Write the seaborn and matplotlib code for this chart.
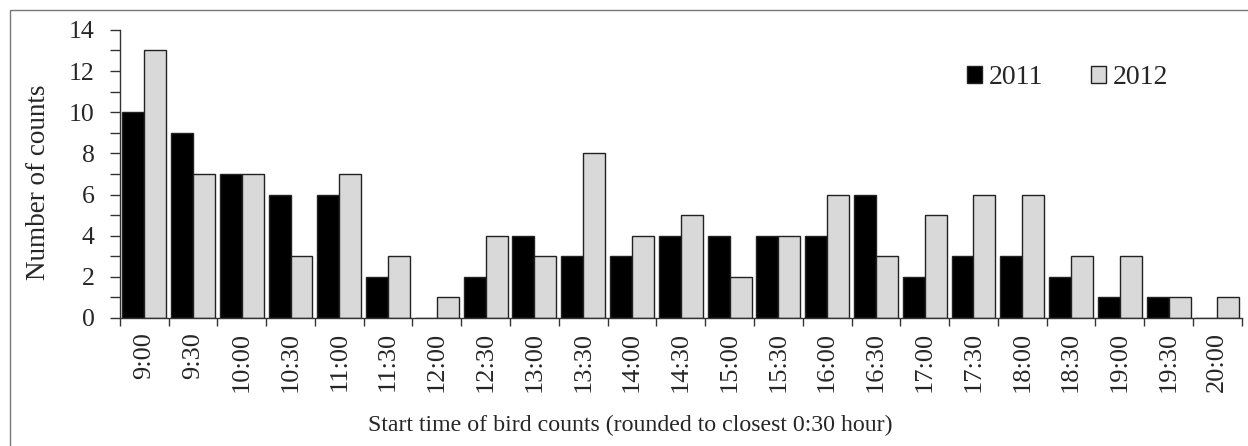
import matplotlib
matplotlib.use("Agg")
import matplotlib.pyplot as plt
import seaborn as sns
import pandas as pd
import numpy as np
from matplotlib.patches import Rectangle, Patch
from matplotlib.ticker import FixedLocator

times = ["9:00", "9:30", "10:00", "10:30", "11:00", "11:30", "12:00", "12:30",
         "13:00", "13:30", "14:00", "14:30", "15:00", "15:30", "16:00", "16:30",
         "17:00", "17:30", "18:00", "18:30", "19:00", "19:30", "20:00"]
counts_2011 = [10, 9, 7, 6, 6, 2, 0, 2, 4, 3, 3, 4, 4, 4, 4, 6, 2, 3, 3, 2, 1, 1, 0]
counts_2012 = [13, 7, 7, 3, 7, 3, 1, 4, 3, 8, 4, 5, 2, 4, 6, 3, 5, 6, 6, 3, 3, 1, 1]
years = ["2011", "2012"]

df = pd.DataFrame({
    "time": times * 2,
    "count": counts_2011 + counts_2012,
    "year": [years[0]] * len(times) + [years[1]] * len(times),
})

sns.set_theme(style="white")
plt.rcParams["font.family"] = ["Liberation Serif", "DejaVu Serif"]

fig = plt.figure(figsize=(12.48, 4.46), dpi=100)
ax = fig.add_axes([0.096, 0.287, 0.899, 0.646])

colors = {"2011": "#000000", "2012": "#d9d9d9"}
sns.barplot(data=df, x="time", y="count", hue="year", order=times,
            hue_order=years, palette=colors, edgecolor="#222222",
            linewidth=1.0, width=0.9, ax=ax, legend=False)

ax.set_xlim(-0.5, len(times) - 0.5)
ax.set_ylim(0, 14)
ax.set_yticks(np.arange(0, 15, 2))
ax.yaxis.set_minor_locator(FixedLocator(np.arange(1, 14, 2)))
ax.tick_params(axis="y", which="major", labelsize=18.5, length=7, width=1,
               color="#333333", left=True, direction="out", pad=11)
ax.tick_params(axis="y", which="minor", length=7, width=1, color="#333333",
               left=True, direction="out")

# x: tick marks at category boundaries, labels at centers
ax.set_xticks(np.arange(len(times)))
ax.set_xticklabels(times, rotation=90)
ax.xaxis.set_minor_locator(FixedLocator(np.arange(-0.5, len(times), 1.0)))
ax.tick_params(axis="x", which="major", length=0, labelsize=19, pad=10)
ax.tick_params(axis="x", which="minor", length=5.5, width=1, color="#333333",
               bottom=True, direction="out")

for s in ["top", "right"]:
    ax.spines[s].set_visible(False)
for s in ["left", "bottom"]:
    ax.spines[s].set_color("#333333")
    ax.spines[s].set_linewidth(1.0)

ax.set_ylabel("Number of counts", fontsize=19.5)
ax.set_xlabel("Start time of bird counts (rounded to closest 0:30 hour)",
              fontsize=17.2)
ax.yaxis.set_label_coords(-0.061, 0.47)
ax.xaxis.set_label_coords(0.455, -0.335)
ax.grid(False)

handles = [Patch(facecolor=colors[y], edgecolor="#222222", linewidth=1.0) for y in years]
ax.legend(handles, years, loc="upper left", bbox_to_anchor=(0.745, 0.915),
          ncol=2, frameon=False, fontsize=20, handlelength=0.55, handleheight=0.55,
          handletextpad=0.25, columnspacing=1.7, borderaxespad=0.0)

fig.patches.append(Rectangle((10 / 1248, -0.05), 1.1, 1 - 10 / 446 + 0.05,
                             transform=fig.transFigure, fill=False,
                             edgecolor="#777777", linewidth=1.0))

fig.savefig("out.png", dpi=100)
